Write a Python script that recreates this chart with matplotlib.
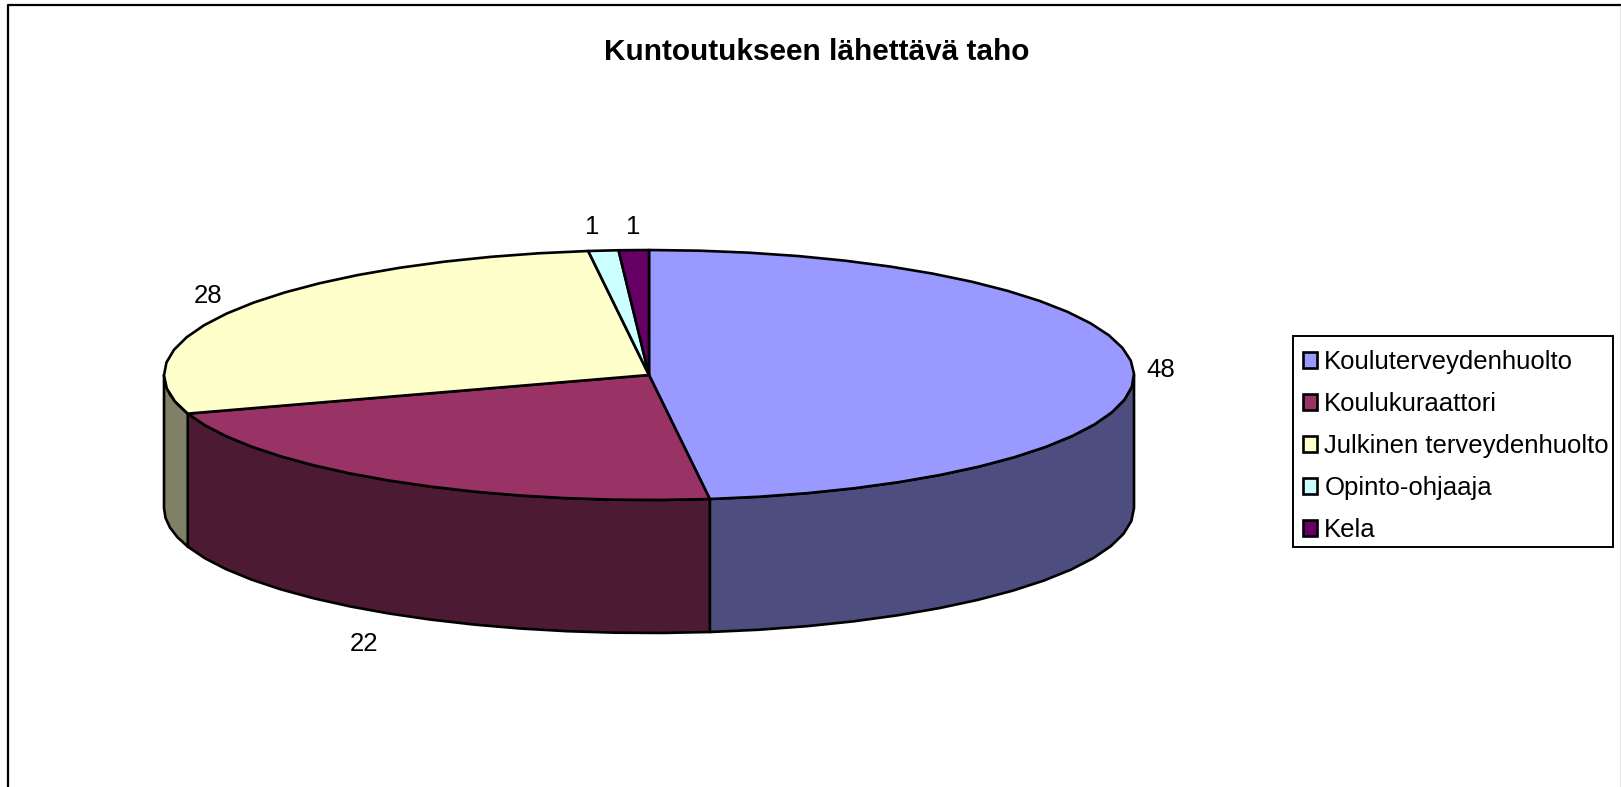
import matplotlib
matplotlib.use('Agg')
import matplotlib.pyplot as plt
from matplotlib.patches import Rectangle
import numpy as np

plt.rcParams['font.family'] = ['Liberation Sans', 'DejaVu Sans']

title = 'Kuntoutukseen lähettävä taho'
categories = ['Kouluterveydenhuolto', 'Koulukuraattori', 'Julkinen terveydenhuolto', 'Opinto-ohjaaja', 'Kela']
values = [48, 22, 28, 1, 1]
top_colors = ['#9999FF', '#993366', '#FFFFCC', '#CCFFFF', '#660066']
side_colors = ['#4D4D80', '#4D1A33', '#808066', '#668080', '#330033']
label_pos = [(1161, 370), (364, 644), (208, 296), (592, 227), (633, 227)]

# pie geometry, in pixels
cx, cy = 649, 375
rx, ry = 485, 125
depth = 133
edge = 1.9


def rim(a, b, step=6):
    # points on the ellipse, angles clockwise from the top, degrees
    n = max(2, int(abs(b - a) / step) + 2)
    t = np.radians(np.linspace(a, b, n))
    return cx + rx * np.sin(t), cy - ry * np.cos(t)


fig = plt.figure(figsize=(16.21, 7.87), dpi=100)
ax = fig.add_axes([0, 0, 1, 1])
ax.set_xlim(0, 1621)
ax.set_ylim(787, 0)
ax.axis('off')

ends = np.cumsum(values) / np.sum(values) * 360
starts = np.concatenate([[0], ends[:-1]])

# side walls first, only the front half of the pie shows them
for a, b, c in zip(starts, ends, side_colors):
    lo, hi = max(a, 90), min(b, 270)
    if lo >= hi:
        continue
    x, y = rim(lo, hi)
    ax.fill(np.concatenate([x, x[::-1]]), np.concatenate([y, y[::-1] + depth]),
            facecolor=c, edgecolor='black', linewidth=edge, joinstyle='round', zorder=2)

# top faces
for a, b, c, name in zip(starts, ends, top_colors, categories):
    x, y = rim(a, b)
    ax.fill(np.concatenate([[cx], x]), np.concatenate([[cy], y]),
            facecolor=c, edgecolor='black', linewidth=edge, joinstyle='round', zorder=3, label=name)

for v, (x, y) in zip(values, label_pos):
    ax.text(x, y, str(v), fontsize=18.5, ha='center', va='center', color='black')

ax.text(817, 52, title, fontsize=21.4, fontweight='bold', ha='center', va='center', color='black')

# chart frame: no line along the bottom edge
ax.plot([7.5, 7.5, 1620.5], [787, 4.5, 4.5], color='black', linewidth=1.6, clip_on=False, zorder=1)
ax.plot([1620.5, 1620.5], [4.5, 787], color='#808080', linewidth=1, zorder=1)

# legend box is drawn by hand, its right padding is tighter than the left
ax.add_patch(Rectangle((1293, 336), 320, 211, facecolor='white', edgecolor='black', linewidth=1.4, zorder=4))
leg = ax.legend(loc='upper left', bbox_to_anchor=(1303 / 1621, 1 - 350 / 787), bbox_transform=fig.transFigure,
                fontsize=18.5, frameon=False,
                borderaxespad=0, borderpad=0, labelspacing=0.70, handlelength=0.55, handleheight=0.55,
                handletextpad=0.28)
leg.set_zorder(5)

fig.savefig('out.png', dpi=100)
